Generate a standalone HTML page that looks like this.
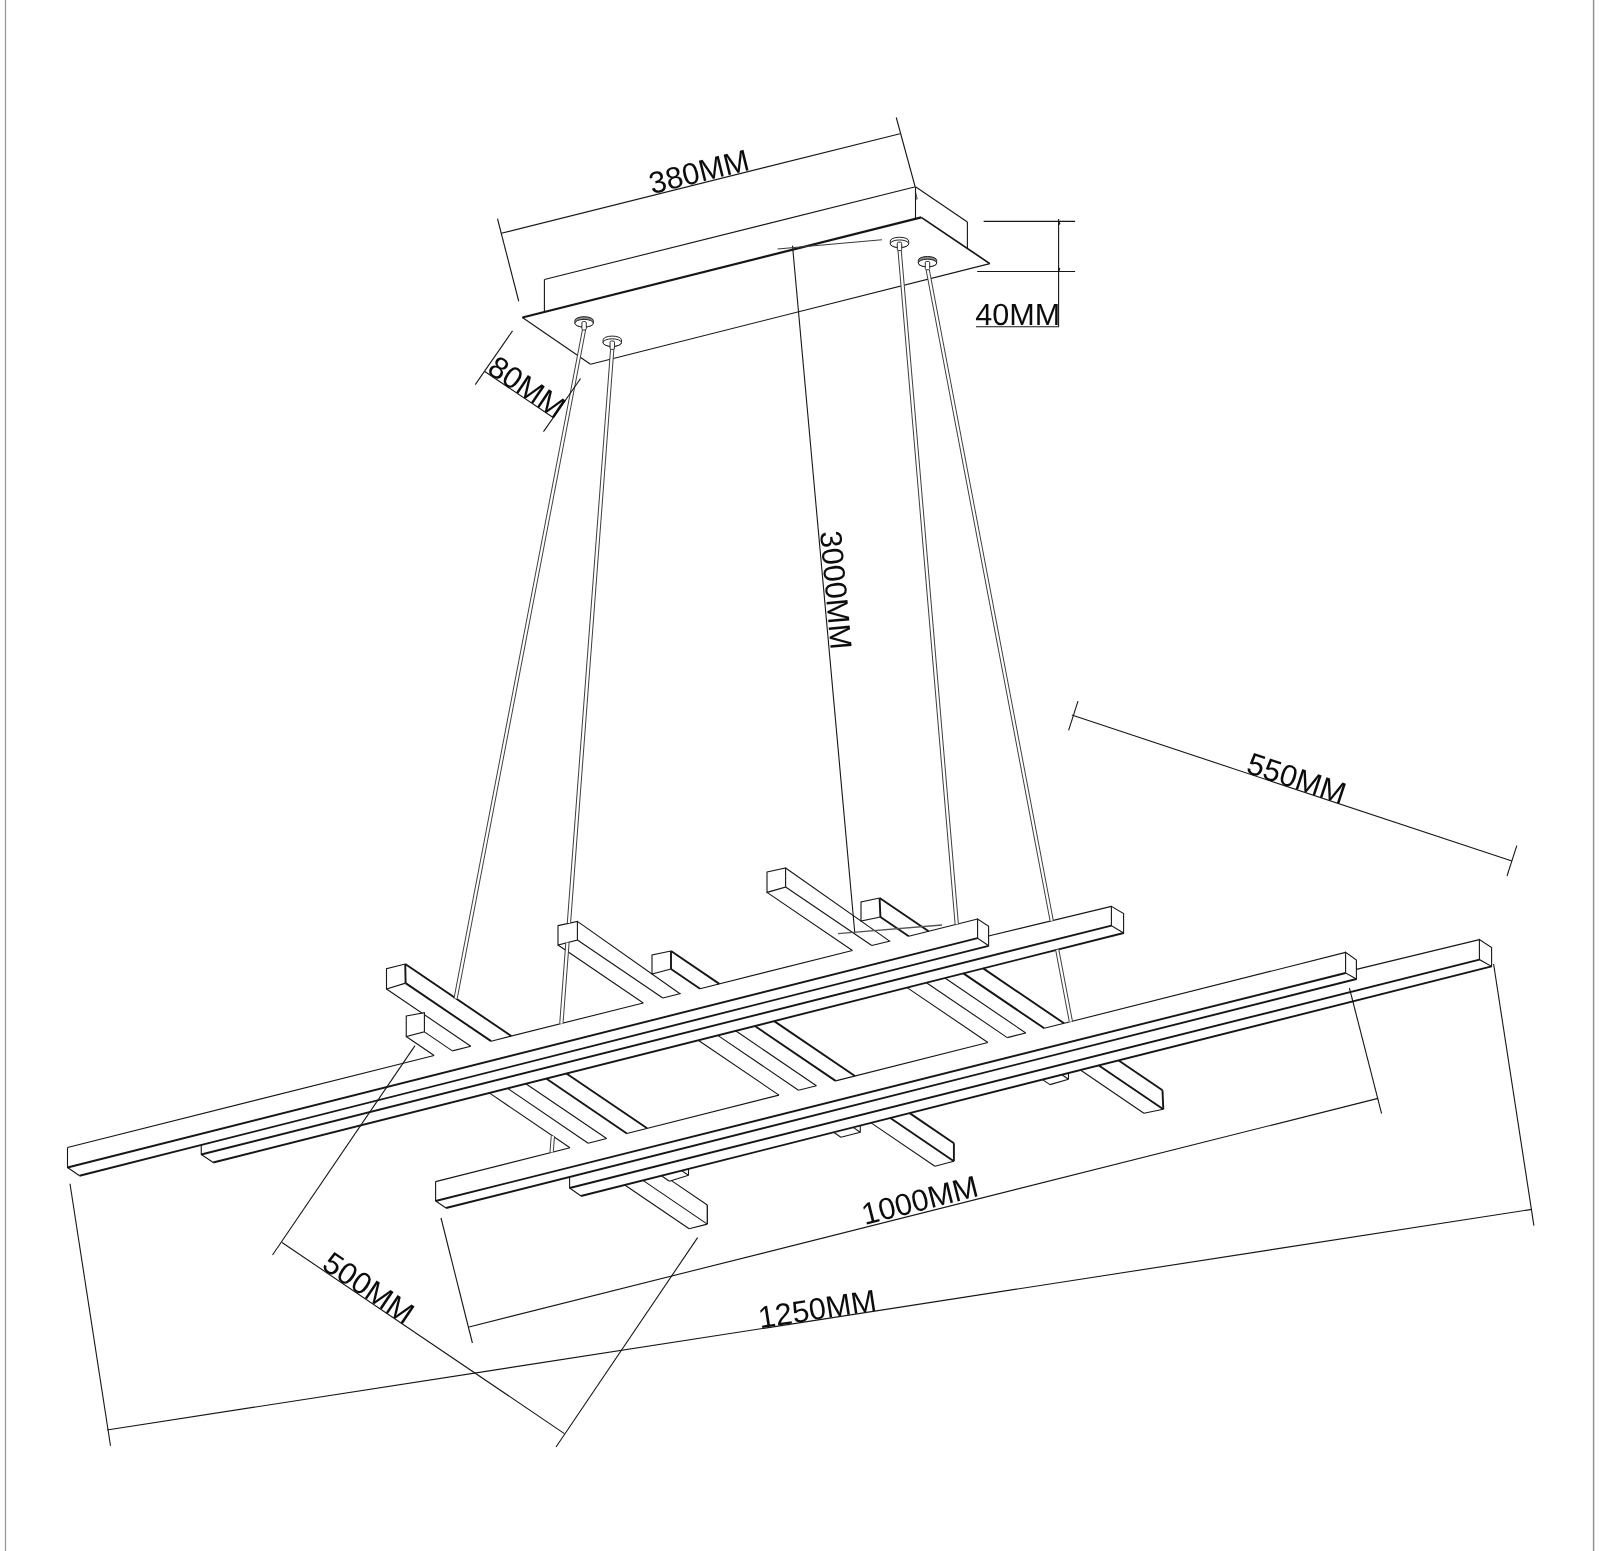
<!DOCTYPE html>
<html><head><meta charset="utf-8"><title>Pendant lamp dimensions</title>
<style>
html,body{margin:0;padding:0;background:#fff;}
body{width:1600px;height:1551px;overflow:hidden;}
svg{display:block;will-change:transform;filter:grayscale(1);}
text{font-family:"Liberation Sans",sans-serif;fill:#0c0c0c;}
</style></head><body>
<svg width="1600" height="1551" viewBox="0 0 1600 1551">
<rect width="1600" height="1551" fill="#fff"/>
<line x1="5.5" y1="0" x2="5.5" y2="1551" stroke="#9a9a9a" stroke-width="1.3" stroke-linecap="butt"/>
<line x1="1593.6" y1="0" x2="1593.6" y2="1551" stroke="#929292" stroke-width="1.5" stroke-linecap="butt"/>
<line x1="522.4" y1="317.5" x2="921.25" y2="217.4" stroke="#161616" stroke-width="2.2" stroke-linecap="butt"/>
<line x1="921.25" y1="217.4" x2="989.8" y2="263.6" stroke="#161616" stroke-width="1.7" stroke-linecap="butt"/>
<line x1="989.8" y1="263.6" x2="590.5" y2="364.2" stroke="#161616" stroke-width="1.1" stroke-linecap="butt"/>
<line x1="590.5" y1="364.2" x2="522.4" y2="317.5" stroke="#161616" stroke-width="1.1" stroke-linecap="butt"/>
<line x1="544.4" y1="311.98" x2="544.4" y2="279.5" stroke="#161616" stroke-width="1.1" stroke-linecap="butt"/>
<line x1="544.4" y1="279.5" x2="915.5" y2="186.75" stroke="#161616" stroke-width="1.1" stroke-linecap="butt"/>
<line x1="915.5" y1="186.75" x2="915.5" y2="218.84" stroke="#161616" stroke-width="1.1" stroke-linecap="butt"/>
<line x1="915.5" y1="186.75" x2="967.4" y2="222" stroke="#161616" stroke-width="1.1" stroke-linecap="butt"/>
<line x1="967.4" y1="222" x2="967.4" y2="248.5" stroke="#161616" stroke-width="1.1" stroke-linecap="butt"/>
<line x1="915.5" y1="192" x2="917.2" y2="199" stroke="#161616" stroke-width="0.8" stroke-linecap="butt"/>
<line x1="917.2" y1="199" x2="915.5" y2="199" stroke="#161616" stroke-width="0.8" stroke-linecap="butt"/>
<line x1="406.25" y1="1036.5" x2="434.14" y2="1055.45" stroke="#161616" stroke-width="1.1" stroke-linecap="butt"/>
<line x1="424.4" y1="1031.9" x2="452.34" y2="1050.88" stroke="#161616" stroke-width="1.1" stroke-linecap="butt"/>
<line x1="386.5" y1="989" x2="470.77" y2="1046.25" stroke="#161616" stroke-width="1.1" stroke-linecap="butt"/>
<line x1="405.6" y1="983.1" x2="491.06" y2="1041.16" stroke="#161616" stroke-width="1.9" stroke-linecap="butt"/>
<line x1="405.25" y1="964" x2="511.33" y2="1036.07" stroke="#161616" stroke-width="1.9" stroke-linecap="butt"/>
<line x1="489.28" y1="1092.91" x2="570" y2="1147.75" stroke="#161616" stroke-width="1.1" stroke-linecap="butt"/>
<line x1="507.46" y1="1088.33" x2="588.18" y2="1143.17" stroke="#161616" stroke-width="1.1" stroke-linecap="butt"/>
<line x1="525.87" y1="1083.69" x2="606.6" y2="1138.53" stroke="#161616" stroke-width="1.1" stroke-linecap="butt"/>
<line x1="546.14" y1="1078.58" x2="626.87" y2="1133.43" stroke="#161616" stroke-width="1.9" stroke-linecap="butt"/>
<line x1="566.39" y1="1073.47" x2="647.12" y2="1128.32" stroke="#161616" stroke-width="1.9" stroke-linecap="butt"/>
<line x1="624.77" y1="1184.96" x2="689.15" y2="1228.7" stroke="#161616" stroke-width="1.1" stroke-linecap="butt"/>
<line x1="642.95" y1="1180.38" x2="707.3" y2="1224.1" stroke="#161616" stroke-width="1.1" stroke-linecap="butt"/>
<line x1="661.36" y1="1175.74" x2="669.4" y2="1181.2" stroke="#161616" stroke-width="1.1" stroke-linecap="butt"/>
<line x1="681.62" y1="1170.63" x2="688.5" y2="1175.3" stroke="#161616" stroke-width="1.1" stroke-linecap="butt"/>
<line x1="669.4" y1="1181.2" x2="688.5" y2="1175.3" stroke="#161616" stroke-width="1.1" stroke-linecap="butt"/>
<line x1="688.5" y1="1168.89" x2="688.5" y2="1175.3" stroke="#161616" stroke-width="1.1" stroke-linecap="butt"/>
<line x1="671.42" y1="1180.58" x2="707.3" y2="1204.95" stroke="#161616" stroke-width="1.1" stroke-linecap="butt"/>
<line x1="707.3" y1="1204.95" x2="707.3" y2="1224.1" stroke="#161616" stroke-width="1.3" stroke-linecap="butt"/>
<line x1="689.15" y1="1228.7" x2="707.3" y2="1224.1" stroke="#161616" stroke-width="1.1" stroke-linecap="butt"/>
<path d="M406.25 1016 L424.4 1012.75 L424.4 1031.9 L406.25 1036.5 Z" fill="#fff" stroke="#161616" stroke-width="1.1" stroke-linejoin="miter"/>
<path d="M405.25 964 L386.5 968.75 L386.5 989 L405.6 983.1" fill="#fff" stroke="#161616" stroke-width="1.1" stroke-linejoin="miter"/>
<line x1="405.25" y1="964" x2="405.6" y2="983.1" stroke="#161616" stroke-width="1.9" stroke-linecap="butt"/>
<line x1="558" y1="945" x2="643.28" y2="1002.94" stroke="#161616" stroke-width="1.1" stroke-linecap="butt"/>
<line x1="577.4" y1="940" x2="662.82" y2="998.03" stroke="#161616" stroke-width="1.1" stroke-linecap="butt"/>
<line x1="577.4" y1="921.4" x2="679.98" y2="993.73" stroke="#161616" stroke-width="1.1" stroke-linecap="butt"/>
<line x1="671" y1="969" x2="699.99" y2="988.7" stroke="#161616" stroke-width="1.9" stroke-linecap="butt"/>
<line x1="671" y1="951" x2="719.34" y2="983.84" stroke="#161616" stroke-width="1.9" stroke-linecap="butt"/>
<line x1="698.19" y1="1040.25" x2="778.96" y2="1095.12" stroke="#161616" stroke-width="1.1" stroke-linecap="butt"/>
<line x1="717.71" y1="1035.33" x2="798.48" y2="1090.2" stroke="#161616" stroke-width="1.1" stroke-linecap="butt"/>
<line x1="735.62" y1="1030.81" x2="816.4" y2="1085.69" stroke="#161616" stroke-width="1.1" stroke-linecap="butt"/>
<line x1="754.84" y1="1025.96" x2="835.63" y2="1080.85" stroke="#161616" stroke-width="1.9" stroke-linecap="butt"/>
<line x1="774.17" y1="1021.09" x2="854.96" y2="1075.98" stroke="#161616" stroke-width="1.9" stroke-linecap="butt"/>
<line x1="871.1" y1="1122.85" x2="934.9" y2="1166.2" stroke="#161616" stroke-width="1.1" stroke-linecap="butt"/>
<line x1="890.32" y1="1118.01" x2="953.9" y2="1161.2" stroke="#161616" stroke-width="1.9" stroke-linecap="butt"/>
<line x1="909.65" y1="1113.13" x2="953.9" y2="1143.2" stroke="#161616" stroke-width="1.9" stroke-linecap="butt"/>
<line x1="953.9" y1="1143.2" x2="953.9" y2="1161.2" stroke="#161616" stroke-width="1.9" stroke-linecap="butt"/>
<line x1="934.9" y1="1166.2" x2="953.9" y2="1161.2" stroke="#161616" stroke-width="1.1" stroke-linecap="butt"/>
<line x1="833.67" y1="1132.29" x2="840.9" y2="1137.2" stroke="#161616" stroke-width="1.1" stroke-linecap="butt"/>
<line x1="853.19" y1="1127.37" x2="860.3" y2="1132.2" stroke="#161616" stroke-width="1.1" stroke-linecap="butt"/>
<line x1="840.9" y1="1137.2" x2="860.3" y2="1132.2" stroke="#161616" stroke-width="1.1" stroke-linecap="butt"/>
<line x1="860.3" y1="1125.58" x2="860.3" y2="1132.2" stroke="#161616" stroke-width="1.1" stroke-linecap="butt"/>
<path d="M558 925.6 L577.4 921.4 L577.4 940 L558 945 Z" fill="#fff" stroke="#161616" stroke-width="1.1" stroke-linejoin="miter"/>
<path d="M671 951 L652 955 L652 974 L671 969" fill="#fff" stroke="#161616" stroke-width="1.1" stroke-linejoin="miter"/>
<line x1="671" y1="951" x2="671" y2="969" stroke="#161616" stroke-width="1.9" stroke-linecap="butt"/>
<line x1="767" y1="892.4" x2="852.42" y2="950.43" stroke="#161616" stroke-width="1.1" stroke-linecap="butt"/>
<line x1="785.6" y1="887" x2="871.8" y2="945.56" stroke="#161616" stroke-width="1.1" stroke-linecap="butt"/>
<line x1="785.6" y1="868" x2="889.59" y2="941.1" stroke="#161616" stroke-width="1.1" stroke-linecap="butt"/>
<line x1="880.4" y1="917" x2="908.78" y2="936.28" stroke="#161616" stroke-width="1.9" stroke-linecap="butt"/>
<line x1="879.6" y1="898" x2="928.61" y2="931.3" stroke="#161616" stroke-width="1.9" stroke-linecap="butt"/>
<line x1="907.1" y1="987.58" x2="987.92" y2="1042.49" stroke="#161616" stroke-width="1.1" stroke-linecap="butt"/>
<line x1="926.46" y1="982.7" x2="1007.28" y2="1037.61" stroke="#161616" stroke-width="1.1" stroke-linecap="butt"/>
<line x1="944.95" y1="978.04" x2="1025.78" y2="1032.95" stroke="#161616" stroke-width="1.1" stroke-linecap="butt"/>
<line x1="963.4" y1="973.39" x2="1044.23" y2="1028.31" stroke="#161616" stroke-width="1.9" stroke-linecap="butt"/>
<line x1="983.21" y1="968.39" x2="1064.05" y2="1023.31" stroke="#161616" stroke-width="1.9" stroke-linecap="butt"/>
<line x1="1080.42" y1="1070.07" x2="1143.9" y2="1113.2" stroke="#161616" stroke-width="1.1" stroke-linecap="butt"/>
<line x1="1098.87" y1="1065.42" x2="1163.3" y2="1109.2" stroke="#161616" stroke-width="1.9" stroke-linecap="butt"/>
<line x1="1118.68" y1="1060.43" x2="1162.5" y2="1090.2" stroke="#161616" stroke-width="1.9" stroke-linecap="butt"/>
<line x1="1162.5" y1="1090.2" x2="1163.3" y2="1109.2" stroke="#161616" stroke-width="1.9" stroke-linecap="butt"/>
<line x1="1143.9" y1="1113.2" x2="1163.3" y2="1109.2" stroke="#161616" stroke-width="1.1" stroke-linecap="butt"/>
<line x1="1042.57" y1="1079.62" x2="1049.9" y2="1084.6" stroke="#161616" stroke-width="1.1" stroke-linecap="butt"/>
<line x1="1061.93" y1="1074.74" x2="1068.5" y2="1079.2" stroke="#161616" stroke-width="1.1" stroke-linecap="butt"/>
<line x1="1049.9" y1="1084.6" x2="1068.5" y2="1079.2" stroke="#161616" stroke-width="1.1" stroke-linecap="butt"/>
<line x1="1068.5" y1="1073.08" x2="1068.5" y2="1079.2" stroke="#161616" stroke-width="1.1" stroke-linecap="butt"/>
<path d="M767 872 L785.6 868 L785.6 887 L767 892.4 Z" fill="#fff" stroke="#161616" stroke-width="1.1" stroke-linejoin="miter"/>
<path d="M879.6 898 L861 902 L861 921 L880.4 917" fill="#fff" stroke="#161616" stroke-width="1.1" stroke-linejoin="miter"/>
<line x1="879.6" y1="898" x2="880.4" y2="917" stroke="#161616" stroke-width="1.9" stroke-linecap="butt"/>
<line x1="67.5" y1="1147.5" x2="434.14" y2="1055.45" stroke="#161616" stroke-width="1.1" stroke-linecap="butt"/>
<line x1="452.34" y1="1050.88" x2="470.77" y2="1046.25" stroke="#161616" stroke-width="1.1" stroke-linecap="butt"/>
<line x1="491.06" y1="1041.16" x2="643.28" y2="1002.94" stroke="#161616" stroke-width="1.1" stroke-linecap="butt"/>
<line x1="662.82" y1="998.03" x2="680.75" y2="993.53" stroke="#161616" stroke-width="1.1" stroke-linecap="butt"/>
<line x1="699.99" y1="988.7" x2="852.42" y2="950.43" stroke="#161616" stroke-width="1.1" stroke-linecap="butt"/>
<line x1="871.8" y1="945.56" x2="890.31" y2="940.92" stroke="#161616" stroke-width="1.1" stroke-linecap="butt"/>
<line x1="908.78" y1="936.28" x2="977.6" y2="919" stroke="#161616" stroke-width="1.1" stroke-linecap="butt"/>
<line x1="435.6" y1="1181.6" x2="570" y2="1147.75" stroke="#161616" stroke-width="1.1" stroke-linecap="butt"/>
<line x1="588.18" y1="1143.17" x2="606.6" y2="1138.53" stroke="#161616" stroke-width="1.1" stroke-linecap="butt"/>
<line x1="626.87" y1="1133.43" x2="778.96" y2="1095.12" stroke="#161616" stroke-width="1.1" stroke-linecap="butt"/>
<line x1="798.48" y1="1090.2" x2="816.4" y2="1085.69" stroke="#161616" stroke-width="1.1" stroke-linecap="butt"/>
<line x1="835.63" y1="1080.85" x2="987.92" y2="1042.49" stroke="#161616" stroke-width="1.1" stroke-linecap="butt"/>
<line x1="1007.28" y1="1037.61" x2="1025.78" y2="1032.95" stroke="#161616" stroke-width="1.1" stroke-linecap="butt"/>
<line x1="1044.23" y1="1028.31" x2="1345.6" y2="952.4" stroke="#161616" stroke-width="1.1" stroke-linecap="butt"/>
<line x1="67.5" y1="1167.5" x2="977.6" y2="938.2" stroke="#161616" stroke-width="1.9" stroke-linecap="butt"/>
<line x1="79.5" y1="1175.75" x2="988.6" y2="945.8" stroke="#161616" stroke-width="1.9" stroke-linecap="butt"/>
<path d="M67.5 1147.5 L67.5 1167.5 L79.5 1175.75" fill="none" stroke="#161616" stroke-width="1.1" stroke-linejoin="miter"/>
<path d="M977.6 938.2 L977.6 919 L988.6 926.4 L988.6 945.8 Z" fill="none" stroke="#161616" stroke-width="1.1" stroke-linejoin="miter"/>
<line x1="988.6" y1="936" x2="1111.4" y2="906.4" stroke="#161616" stroke-width="1.1" stroke-linecap="butt"/>
<line x1="201.25" y1="1154.5" x2="1111.4" y2="925.6" stroke="#161616" stroke-width="1.9" stroke-linecap="butt"/>
<line x1="213.25" y1="1162.5" x2="1123.6" y2="933" stroke="#161616" stroke-width="1.9" stroke-linecap="butt"/>
<path d="M201.25 1144.95 L201.25 1154.5 L213.25 1162.5" fill="none" stroke="#161616" stroke-width="1.1" stroke-linejoin="miter"/>
<path d="M1111.4 925.6 L1111.4 906.4 L1123.6 913.6 L1123.6 933 Z" fill="none" stroke="#161616" stroke-width="1.1" stroke-linejoin="miter"/>
<line x1="435.6" y1="1201" x2="1345.6" y2="973" stroke="#161616" stroke-width="1.9" stroke-linecap="butt"/>
<line x1="446" y1="1208" x2="1356.4" y2="979" stroke="#161616" stroke-width="1.9" stroke-linecap="butt"/>
<path d="M435.6 1181.6 L435.6 1201 L446 1208" fill="none" stroke="#161616" stroke-width="1.1" stroke-linejoin="miter"/>
<path d="M1345.6 973 L1345.6 952.4 L1356.4 960 L1356.4 979 Z" fill="none" stroke="#161616" stroke-width="1.1" stroke-linejoin="miter"/>
<line x1="1356.4" y1="969.4" x2="1479.4" y2="939.6" stroke="#161616" stroke-width="1.1" stroke-linecap="butt"/>
<line x1="569.6" y1="1188" x2="1479.4" y2="959.6" stroke="#161616" stroke-width="1.9" stroke-linecap="butt"/>
<line x1="581" y1="1196" x2="1491.6" y2="966.4" stroke="#161616" stroke-width="1.9" stroke-linecap="butt"/>
<path d="M569.6 1176.91 L569.6 1188 L581 1196" fill="none" stroke="#161616" stroke-width="1.1" stroke-linejoin="miter"/>
<path d="M1479.4 959.6 L1479.4 939.6 L1491.6 947.6 L1491.6 966.4 Z" fill="none" stroke="#161616" stroke-width="1.1" stroke-linejoin="miter"/>
<line x1="584" y1="330" x2="455.6" y2="998.5" stroke="#fff" stroke-width="3.3" stroke-linecap="butt"/>
<line x1="585.62" y1="330" x2="457.22" y2="998.5" stroke="#333" stroke-width="0.95" stroke-linecap="butt"/>
<line x1="582.38" y1="330" x2="453.98" y2="998.5" stroke="#333" stroke-width="0.95" stroke-linecap="butt"/>
<line x1="612.25" y1="349" x2="568.93" y2="923.23" stroke="#fff" stroke-width="3.3" stroke-linecap="butt"/>
<line x1="613.9" y1="349" x2="570.57" y2="923.23" stroke="#333" stroke-width="0.95" stroke-linecap="butt"/>
<line x1="610.6" y1="349" x2="567.28" y2="923.23" stroke="#333" stroke-width="0.95" stroke-linecap="butt"/>
<line x1="567.47" y1="942.57" x2="561.36" y2="1023.51" stroke="#fff" stroke-width="3.3" stroke-linecap="butt"/>
<line x1="569.11" y1="942.57" x2="563.01" y2="1023.51" stroke="#333" stroke-width="0.95" stroke-linecap="butt"/>
<line x1="565.82" y1="942.57" x2="559.72" y2="1023.51" stroke="#333" stroke-width="0.95" stroke-linecap="butt"/>
<line x1="552.87" y1="1136.11" x2="551.64" y2="1152.37" stroke="#fff" stroke-width="3.3" stroke-linecap="butt"/>
<line x1="554.51" y1="1136.11" x2="553.28" y2="1152.37" stroke="#333" stroke-width="0.95" stroke-linecap="butt"/>
<line x1="551.22" y1="1136.11" x2="549.99" y2="1152.37" stroke="#333" stroke-width="0.95" stroke-linecap="butt"/>
<line x1="899.6" y1="250" x2="956.76" y2="924.23" stroke="#fff" stroke-width="3.3" stroke-linecap="butt"/>
<line x1="901.24" y1="250" x2="958.41" y2="924.23" stroke="#333" stroke-width="0.95" stroke-linecap="butt"/>
<line x1="897.96" y1="250" x2="955.12" y2="924.23" stroke="#333" stroke-width="0.95" stroke-linecap="butt"/>
<line x1="927.75" y1="270" x2="1051.71" y2="920.79" stroke="#fff" stroke-width="3.3" stroke-linecap="butt"/>
<line x1="929.37" y1="270" x2="1053.33" y2="920.79" stroke="#333" stroke-width="0.95" stroke-linecap="butt"/>
<line x1="926.13" y1="270" x2="1050.09" y2="920.79" stroke="#333" stroke-width="0.95" stroke-linecap="butt"/>
<line x1="1057.23" y1="949.73" x2="1070.91" y2="1021.59" stroke="#fff" stroke-width="3.3" stroke-linecap="butt"/>
<line x1="1058.85" y1="949.73" x2="1072.53" y2="1021.59" stroke="#333" stroke-width="0.95" stroke-linecap="butt"/>
<line x1="1055.6" y1="949.73" x2="1069.29" y2="1021.59" stroke="#333" stroke-width="0.95" stroke-linecap="butt"/>
<path d="M574.9 320.5 A9.2 3.8 0 0 1 593.3 320.5 L593.3 323.2 A9.2 3.8 0 0 1 574.9 323.2 Z" fill="#8a8a8a" stroke="#222" stroke-width="1"/>
<ellipse cx="584.1" cy="323.2" rx="9.2" ry="3.8" fill="#fff" stroke="#222" stroke-width="1"/>
<rect x="581.9" y="321.6" width="4.4" height="8.4" rx="1.4" ry="1.2" fill="#fff" stroke="#222" stroke-width="0.95"/>
<path d="M603.05 339.9 A9.2 3.8 0 0 1 621.45 339.9 L621.45 342.6 A9.2 3.8 0 0 1 603.05 342.6 Z" fill="#fff" stroke="#222" stroke-width="1"/>
<ellipse cx="612.25" cy="342.6" rx="9.2" ry="3.8" fill="#fff" stroke="#222" stroke-width="1"/>
<rect x="610.05" y="341" width="4.4" height="8.4" rx="1.4" ry="1.2" fill="#fff" stroke="#222" stroke-width="0.95"/>
<path d="M890.3 241.05 A9.2 3.8 0 0 1 908.7 241.05 L908.7 243.75 A9.2 3.8 0 0 1 890.3 243.75 Z" fill="#fff" stroke="#222" stroke-width="1"/>
<ellipse cx="899.5" cy="243.75" rx="9.2" ry="3.8" fill="#fff" stroke="#222" stroke-width="1"/>
<rect x="897.3" y="242.15" width="4.4" height="8.4" rx="1.4" ry="1.2" fill="#fff" stroke="#222" stroke-width="0.95"/>
<path d="M918.3 260.3 A9.2 3.8 0 0 1 936.7 260.3 L936.7 263 A9.2 3.8 0 0 1 918.3 263 Z" fill="#8a8a8a" stroke="#222" stroke-width="1"/>
<ellipse cx="927.5" cy="263" rx="9.2" ry="3.8" fill="#fff" stroke="#222" stroke-width="1"/>
<rect x="925.3" y="261.4" width="4.4" height="8.4" rx="1.4" ry="1.2" fill="#fff" stroke="#222" stroke-width="0.95"/>
<line x1="501.25" y1="233.25" x2="900" y2="133.75" stroke="#161616" stroke-width="1.1" stroke-linecap="butt"/>
<line x1="497.5" y1="218.75" x2="518.75" y2="301.25" stroke="#161616" stroke-width="1.1" stroke-linecap="butt"/>
<line x1="896.25" y1="117.5" x2="915" y2="186.25" stroke="#161616" stroke-width="1.1" stroke-linecap="butt"/>
<line x1="484.4" y1="371.25" x2="553.1" y2="417.5" stroke="#161616" stroke-width="1.1" stroke-linecap="butt"/>
<line x1="475.25" y1="384.6" x2="512.5" y2="330.9" stroke="#161616" stroke-width="1.1" stroke-linecap="butt"/>
<line x1="543.5" y1="431.6" x2="580.6" y2="378.5" stroke="#161616" stroke-width="1.1" stroke-linecap="butt"/>
<line x1="983.65" y1="221.4" x2="1075.1" y2="221.4" stroke="#161616" stroke-width="1.1" stroke-linecap="butt"/>
<line x1="977.15" y1="271.5" x2="1075.1" y2="271.5" stroke="#161616" stroke-width="1.1" stroke-linecap="butt"/>
<line x1="1058.6" y1="218.9" x2="1058.6" y2="326.8" stroke="#161616" stroke-width="1.1" stroke-linecap="butt"/>
<line x1="976" y1="326.8" x2="1059.1" y2="326.8" stroke="#161616" stroke-width="1.1" stroke-linecap="butt"/>
<path d="M1058.9 221.6 L1060.1 223.4 L1058.9 225 Z" fill="#161616" stroke="#161616" stroke-width="0.5" stroke-linejoin="miter"/>
<path d="M1058.9 267.6 L1060.1 268.8 L1058.9 271.2 Z" fill="#161616" stroke="#161616" stroke-width="0.5" stroke-linejoin="miter"/>
<line x1="792.5" y1="245.6" x2="854.8" y2="933" stroke="#161616" stroke-width="1.1" stroke-linecap="butt"/>
<line x1="777.5" y1="249" x2="881.9" y2="239.75" stroke="#3a3a3a" stroke-width="1.2" stroke-linecap="butt"/>
<line x1="838" y1="933.6" x2="942" y2="925" stroke="#555" stroke-width="1.3" stroke-linecap="butt"/>
<line x1="1071.85" y1="715.1" x2="1511.9" y2="861" stroke="#161616" stroke-width="1.1" stroke-linecap="butt"/>
<line x1="1078" y1="701.1" x2="1068.6" y2="730.4" stroke="#161616" stroke-width="1.1" stroke-linecap="butt"/>
<line x1="1516.8" y1="845.7" x2="1507" y2="876" stroke="#161616" stroke-width="1.1" stroke-linecap="butt"/>
<line x1="415" y1="1045.6" x2="272.5" y2="1255" stroke="#161616" stroke-width="1.1" stroke-linecap="butt"/>
<line x1="697.6" y1="1237.6" x2="556" y2="1447" stroke="#161616" stroke-width="1.1" stroke-linecap="butt"/>
<line x1="282" y1="1242.5" x2="564.4" y2="1433.6" stroke="#161616" stroke-width="1.1" stroke-linecap="butt"/>
<line x1="441" y1="1218" x2="472.4" y2="1343" stroke="#161616" stroke-width="1.1" stroke-linecap="butt"/>
<line x1="1349.4" y1="988" x2="1381.6" y2="1113.6" stroke="#161616" stroke-width="1.1" stroke-linecap="butt"/>
<line x1="469" y1="1327" x2="1378" y2="1098.4" stroke="#161616" stroke-width="1.1" stroke-linecap="butt"/>
<line x1="70" y1="1183.75" x2="110.5" y2="1445.75" stroke="#161616" stroke-width="1.1" stroke-linecap="butt"/>
<line x1="1493.6" y1="964" x2="1533.9" y2="1225.6" stroke="#161616" stroke-width="1.1" stroke-linecap="butt"/>
<line x1="107" y1="1430" x2="1531.6" y2="1209.4" stroke="#161616" stroke-width="1.1" stroke-linecap="butt"/>
<text x="652" y="194.2" transform="rotate(-14 652 194.2)" font-size="30.6" text-anchor="start">380MM</text>
<text x="485.7" y="372" transform="rotate(34 485.7 372)" font-size="30.6" text-anchor="start">80MM</text>
<text x="975.2" y="325" transform="rotate(0.03 975.2 325)" font-size="30.6" text-anchor="start">40MM</text>
<text x="820" y="531.8" transform="rotate(84.8 820 531.8)" font-size="30.6" text-anchor="start">3000MM</text>
<text x="1244.9" y="772.3" transform="rotate(18.35 1244.9 772.3)" font-size="30.6" text-anchor="start">550MM</text>
<text x="320.5" y="1268" transform="rotate(34.1 320.5 1268)" font-size="30.6" text-anchor="start">500MM</text>
<text x="864.7" y="1225" transform="rotate(-14.2 864.7 1225)" font-size="30.6" text-anchor="start">1000MM</text>
<text x="760" y="1328.3" transform="rotate(-8.7 760 1328.3)" font-size="30.6" text-anchor="start">1250MM</text>
</svg>
</body></html>
